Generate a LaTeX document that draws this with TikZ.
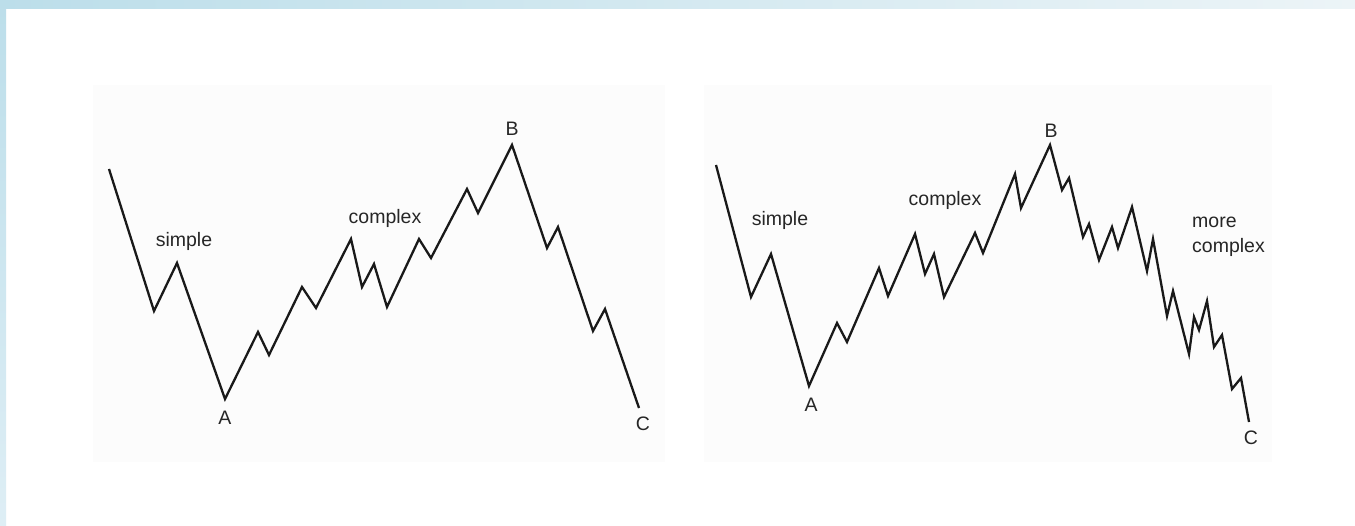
\documentclass[tikz,border=0pt]{standalone}
\usepackage{fontspec}
\setmainfont{Liberation Sans}
\begin{document}
\begin{tikzpicture}[x=1pt,y=-1pt,
  wave/.style={line width=2.3pt, draw=black!90, line join=miter},
  lbl/.style={font=\fontsize{19.5}{25}\selectfont, text=black!85, inner sep=0pt},
  panel/.style={fill=black!1.2, draw=none}]
\useasboundingbox (0,0) rectangle (1355,526);
% background frame
\fill[white] (0,0) rectangle (1355,526);
\shade[left color={rgb,255:red,188;green,222;blue,234}, right color={rgb,255:red,236;green,244;blue,247}] (0,0) rectangle (1355,9);
\shade[top color={rgb,255:red,188;green,222;blue,234}, bottom color={rgb,255:red,222;green,238;blue,245}] (0,0) rectangle (6,526);
% panels
\fill[panel] (93,85) rectangle (665,462);
\fill[panel] (704,85) rectangle (1272,462);

% ---------- left chart ----------
\coordinate (L0) at (109,169);
\coordinate (L1) at (154,311);
\coordinate (L2) at (177,263);
\coordinate (LA) at (225,399);
\coordinate (L3) at (258,332);
\coordinate (L4) at (269,355);
\coordinate (L5) at (302,287);
\coordinate (L6) at (316,308);
\coordinate (L7) at (351,239);
\coordinate (L8) at (362,287);
\coordinate (L9) at (374,264);
\coordinate (L10) at (387,307);
\coordinate (L11) at (419,239);
\coordinate (L12) at (431,258);
\coordinate (L13) at (467,189);
\coordinate (L14) at (478,213);
\coordinate (LB) at (512,145);
\coordinate (L15) at (547,248);
\coordinate (L16) at (558,227);
\coordinate (L17) at (593,331);
\coordinate (L18) at (605,309);
\coordinate (LC) at (639,408);
\draw[wave] (L0) -- (L1) -- (L2) -- (LA) -- (L3) -- (L4) -- (L5) -- (L6) -- (L7)
  -- (L8) -- (L9) -- (L10) -- (L11) -- (L12) -- (L13) -- (L14) -- (LB)
  -- (L15) -- (L16) -- (L17) -- (L18) -- (LC);
\node[lbl] (lsimple) at (184,241) {simple};
\node[lbl] (lcomplex) at (385,218) {complex};
\node[lbl] (lA) at (225,418) {A};
\node[lbl] (lB) at (512,129) {B};
\node[lbl] (lC) at (643,424) {C};

% ---------- right chart ----------
\coordinate (R0) at (716,165);
\coordinate (R1) at (751,297);
\coordinate (R2) at (771,254);
\coordinate (RA) at (809,386);
\coordinate (R3) at (837,323);
\coordinate (R4) at (847,342);
\coordinate (R5) at (879,268);
\coordinate (R6) at (888,296);
\coordinate (R7) at (915,234);
\coordinate (R8) at (925,274);
\coordinate (R9) at (934,254);
\coordinate (R10) at (944,297);
\coordinate (R11) at (975,233);
\coordinate (R12) at (983,253);
\coordinate (R13) at (1015,174);
\coordinate (R14) at (1021,208);
\coordinate (RB) at (1050,145);
\coordinate (R15) at (1062,190);
\coordinate (R16) at (1069,178);
\coordinate (R17) at (1083,237);
\coordinate (R18) at (1089,224);
\coordinate (R19) at (1099,260);
\coordinate (R20) at (1112,227);
\coordinate (R21) at (1118,248);
\coordinate (R22) at (1132,207);
\coordinate (R23) at (1147,271);
\coordinate (R24) at (1153,239);
\coordinate (R25) at (1167,316);
\coordinate (R26) at (1173,291);
\coordinate (R27) at (1189,354);
\coordinate (R28) at (1194,317);
\coordinate (R29) at (1199,330);
\coordinate (R30) at (1207,301);
\coordinate (R31) at (1214,347);
\coordinate (R32) at (1222,335);
\coordinate (R33) at (1232,389);
\coordinate (R34) at (1241,378);
\coordinate (RC) at (1249,422);
\draw[wave] (R0) -- (R1) -- (R2) -- (RA) -- (R3) -- (R4) -- (R5) -- (R6) -- (R7)
  -- (R8) -- (R9) -- (R10) -- (R11) -- (R12) -- (R13) -- (R14) -- (RB)
  -- (R15) -- (R16) -- (R17) -- (R18) -- (R19) -- (R20) -- (R21) -- (R22)
  -- (R23) -- (R24) -- (R25) -- (R26) -- (R27) -- (R28) -- (R29) -- (R30)
  -- (R31) -- (R32) -- (R33) -- (R34) -- (RC);
\node[lbl] (rsimple) at (780,220) {simple};
\node[lbl] (rcomplex) at (945,200) {complex};
\node[lbl, anchor=west, align=left] (rmore) at (1192,237) {more\\complex};
\node[lbl] (rA) at (811,405) {A};
\node[lbl] (rB) at (1051,131) {B};
\node[lbl] (rC) at (1251,438) {C};
\end{tikzpicture}
\end{document}
